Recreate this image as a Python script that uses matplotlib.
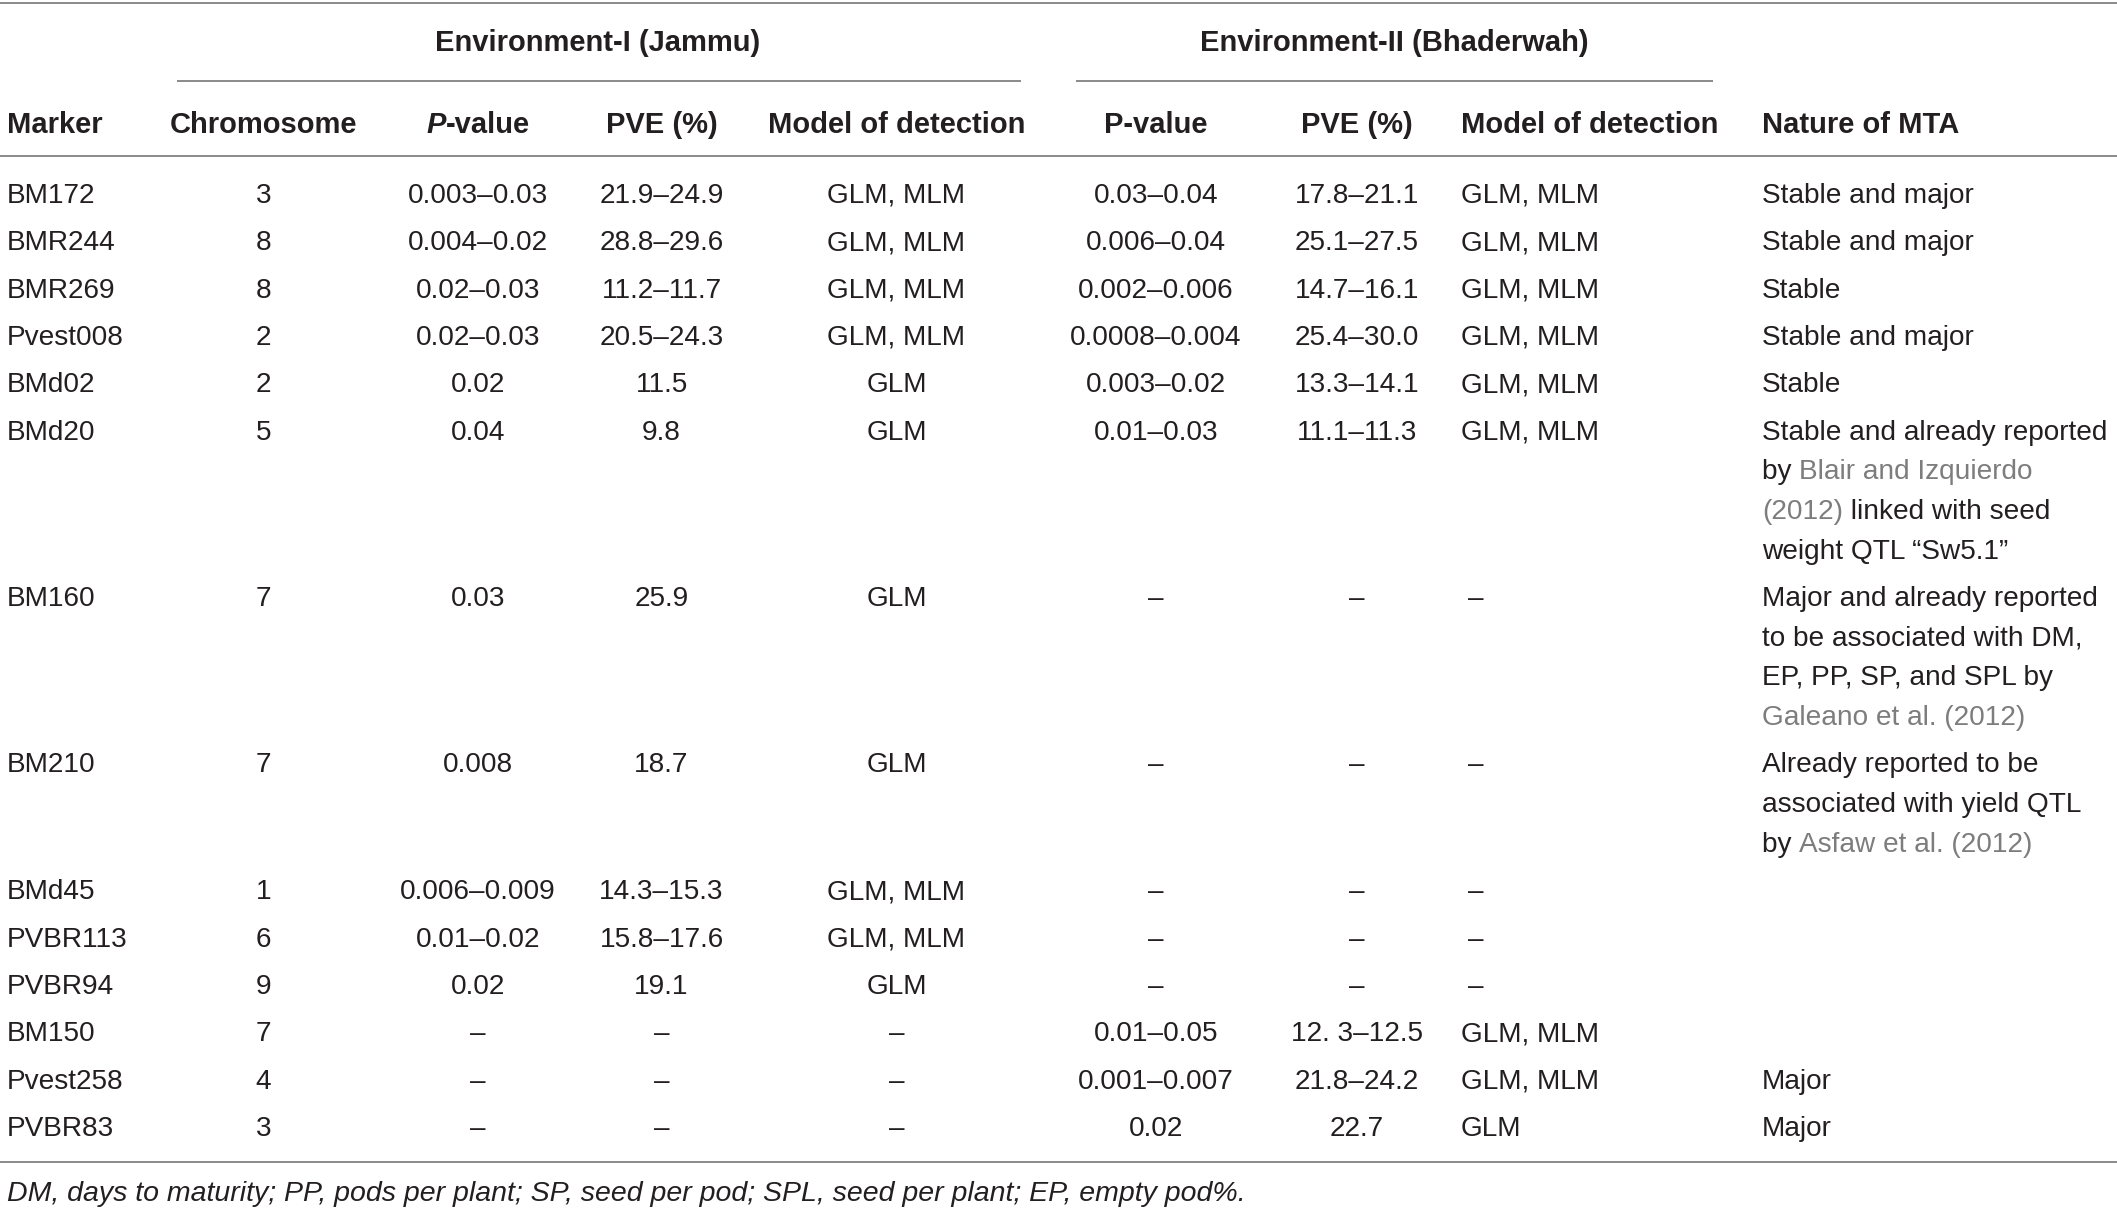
import matplotlib
matplotlib.use("Agg")
import matplotlib.pyplot as plt

# ---------------- data ----------------
markers = ["BM172", "BMR244", "BMR269", "Pvest008", "BMd02", "BMd20", "BM160",
           "BM210", "BMd45", "PVBR113", "PVBR94", "BM150", "Pvest258", "PVBR83"]
chromosome = ["3", "8", "8", "2", "2", "5", "7", "7", "1", "6", "9", "7", "4", "3"]
p_env1 = ["0.003–0.03", "0.004–0.02", "0.02–0.03", "0.02–0.03", "0.02", "0.04", "0.03",
          "0.008", "0.006–0.009", "0.01–0.02", "0.02", "–", "–", "–"]
pve_env1 = ["21.9–24.9", "28.8–29.6", "11.2–11.7", "20.5–24.3", "11.5", "9.8", "25.9",
            "18.7", "14.3–15.3", "15.8–17.6", "19.1", "–", "–", "–"]
model_env1 = ["GLM, MLM", "GLM, MLM", "GLM, MLM", "GLM, MLM", "GLM", "GLM", "GLM",
              "GLM", "GLM, MLM", "GLM, MLM", "GLM", "–", "–", "–"]
p_env2 = ["0.03–0.04", "0.006–0.04", "0.002–0.006", "0.0008–0.004", "0.003–0.02", "0.01–0.03",
          "–", "–", "–", "–", "–", "0.01–0.05", "0.001–0.007", "0.02"]
pve_env2 = ["17.8–21.1", "25.1–27.5", "14.7–16.1", "25.4–30.0", "13.3–14.1", "11.1–11.3",
            "–", "–", "–", "–", "–", "12. 3–12.5", "21.8–24.2", "22.7"]
model_env2 = ["GLM, MLM", "GLM, MLM", "GLM, MLM", "GLM, MLM", "GLM, MLM", "GLM, MLM",
              "–", "–", "–", "–", "–", "GLM, MLM", "GLM, MLM", "GLM"]
# nature of MTA: list of lines, each line a list of (text, is_citation)
nature = [
    [[("Stable and major", False)]],
    [[("Stable and major", False)]],
    [[("Stable", False)]],
    [[("Stable and major", False)]],
    [[("Stable", False)]],
    [[("Stable and already reported", False)],
     [("by ", False), ("Blair and Izquierdo", True)],
     [("(2012)", True), (" linked with seed", False)],
     [("weight QTL \u201cSw5.1\u201d", False)]],
    [[("Major and already reported", False)],
     [("to be associated with DM,", False)],
     [("EP, PP, SP, and SPL by", False)],
     [("Galeano et al. (2012)", True)]],
    [[("Already reported to be", False)],
     [("associated with yield QTL", False)],
     [("by ", False), ("Asfaw et al. (2012)", True)]],
    [],
    [],
    [],
    [],
    [[("Major", False)]],
    [[("Major", False)]],
]
group_titles = ["Environment-I (Jammu)", "Environment-II (Bhaderwah)"]
col_headers = ["Marker", "Chromosome", "P-value", "PVE (%)", "Model of detection",
               "P-value", "PVE (%)", "Model of detection", "Nature of MTA"]
footnote = "DM, days to maturity; PP, pods per plant; SP, seed per pod; SPL, seed per plant; EP, empty pod%."

# ---------------- style / layout ----------------
W, H = 2117, 1209
RW, RH = 1568, 893          # layout units
TXT = "#231f20"
LINK = "#7d7d7d"
RULE = "#8a8a8a"
FS = 20.2
FS_HEAD = 21.0
FS_FOOT = 20.5
DY = 1.6
FAM = ["Liberation Sans", "DejaVu Sans"]

fig = plt.figure(figsize=(W / 100, H / 100), dpi=100)
ax = fig.add_axes([0, 0, 1, 1])
ax.set_xlim(0, RW)
ax.set_ylim(RH, 0)
ax.axis("off")
fig.canvas.draw()
renderer = fig.canvas.get_renderer()
px2u = RW / W


def seg_width(s, fs, **kw):
    t = ax.text(0, 0, s, fontsize=fs, family=FAM, **kw)
    w = t.get_window_extent(renderer).width * px2u
    t.remove()
    return w


def style_kw(style, bold):
    kw = {}
    if bold:
        kw["fontweight"] = "bold"
    if style == "italic":
        kw["fontstyle"] = "italic"
    return kw


def rich(x, y, segs, ha="left", bold=False, fs=FS):
    widths = [seg_width(s, fs, **style_kw(st, bold)) for s, st in segs]
    total = sum(widths)
    cx = x - total / 2 if ha == "center" else x
    for (s, st), w in zip(segs, widths):
        color = LINK if st == "link" else TXT
        ax.text(cx, y + DY, s, fontsize=fs, family=FAM, color=color, ha="left",
                va="center", **style_kw(st, bold))
        cx += w


def rule(x0, x1, y):
    ax.plot([x0, x1], [y, y], color=RULE, lw=1.4, solid_capstyle="butt")


# column anchors (x, ha)
cols = [(5, "left"), (195, "center"), (354, "center"), (490, "center"), (664, "center"),
        (856, "center"), (1005, "center"), (1082, "left"), (1305, "left")]

# rules
rule(0, RW, 2)
rule(131, 756, 60)
rule(797, 1269, 60)
rule(0, RW, 115)
rule(0, RW, 858)

# group titles
ax.text(443, 30 + DY, group_titles[0], fontsize=FS_HEAD, family=FAM, fontweight="bold",
        color=TXT, ha="center", va="center")
ax.text(1033, 30 + DY, group_titles[1], fontsize=FS_HEAD, family=FAM, fontweight="bold",
        color=TXT, ha="center", va="center")

# column headers
for i, (h, (x, ha)) in enumerate(zip(col_headers, cols)):
    if i == 2:
        rich(x, 91, [("P", "italic"), ("-value", None)], ha="center", bold=True, fs=FS_HEAD)
    else:
        ax.text(x, 91 + DY, h, fontsize=FS_HEAD, family=FAM, fontweight="bold", color=TXT,
                ha=ha, va="center")

# body
y = 143
LINE = 29.3
STEP = 35
for r in range(len(markers)):
    vals = [markers[r], chromosome[r], p_env1[r], pve_env1[r], model_env1[r],
            p_env2[r], pve_env2[r], model_env2[r]]
    for c, v in enumerate(vals):
        x, ha = cols[c]
        if c == 7 and v == "–":
            x += 5
        ax.text(x, y + DY, v, fontsize=FS, family=FAM, color=TXT, ha=ha, va="center")
    lines = nature[r]
    for k, line in enumerate(lines):
        rich(cols[8][0], y + k * LINE,
             [(s, "link" if is_link else None) for s, is_link in line])
    y += max(len(lines) - 1, 0) * LINE + STEP

ax.text(5, 880 + DY, footnote, fontsize=FS_FOOT, family=FAM, fontstyle="italic", color=TXT,
        ha="left", va="center")

fig.savefig("out.png", dpi=100, facecolor="white")
